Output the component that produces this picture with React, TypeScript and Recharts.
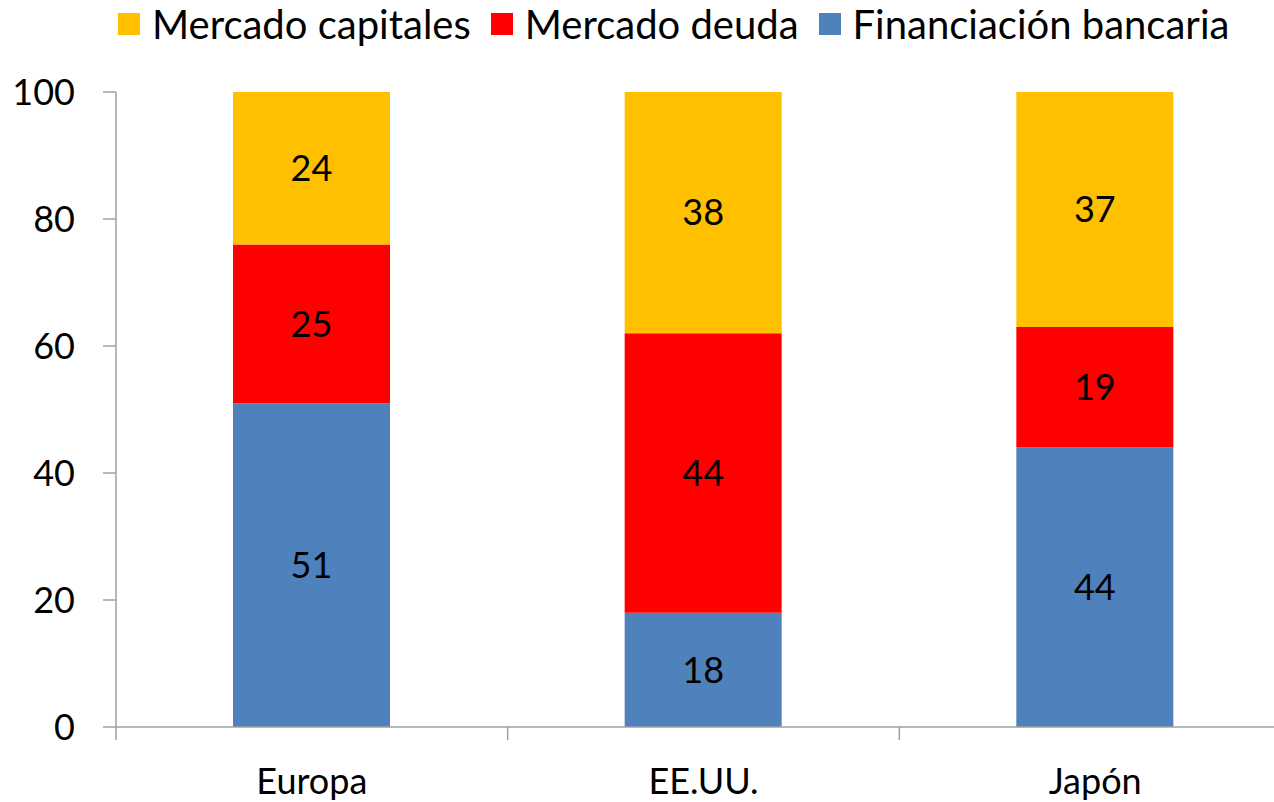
import React from 'react'
import { BarChart, Bar, XAxis, YAxis, LabelList } from 'recharts'

// Fuentes de financiación por región (% del total)
const regions = ['Europa', 'EE.UU.', 'Japón']
const bancaria = [51, 18, 44]
const deuda = [25, 44, 19]
const capitales = [24, 38, 37]
const yTicks = [0, 20, 40, 60, 80, 100]

const series = [
  { key: 'bancaria', name: 'Financiación bancaria', color: '#4F81BD', values: bancaria },
  { key: 'deuda', name: 'Mercado deuda', color: '#FF0000', values: deuda },
  { key: 'capitales', name: 'Mercado capitales', color: '#FFC000', values: capitales }
]

const data = regions.map((region, i) => ({
  region,
  bancaria: bancaria[i],
  deuda: deuda[i],
  capitales: capitales[i]
}))

const AXIS = '#A0A0A0'
const FONT = 'Lato, "Open Sans", sans-serif'

const CategoryTick = (props: any) => {
  const { x, y, payload } = props
  const half = payload?.offset ?? 0
  return (
    <g>
      <line x1={x - half} x2={x - half} y1={y - 41} y2={y - 28} stroke={AXIS} strokeWidth={1.5} />
      <text x={x} y={y} dy="0.71em" textAnchor="middle" fill="#000" fontSize={36} fontFamily={FONT}>
        {payload.value}
      </text>
    </g>
  )
}

function LegendRow() {
  const items = [...series].reverse()
  return (
    <div
      style={{
        position: 'absolute',
        top: 0,
        left: 118,
        display: 'flex',
        alignItems: 'center',
        fontFamily: FONT,
        fontSize: 40,
        lineHeight: '48px',
        color: '#000',
        whiteSpace: 'nowrap'
      }}
    >
      {items.map(s => (
        <div key={s.key} style={{ display: 'flex', alignItems: 'center', marginRight: 20 }}>
          <span style={{ width: 22, height: 22, background: s.color, marginRight: 12, display: 'inline-block' }} />
          <span>{s.name}</span>
        </div>
      ))}
    </div>
  )
}

export default function App() {
  return (
    <div
      style={{
        position: 'absolute',
        left: 0,
        top: 0,
        width: 1274,
        height: 802,
        overflow: 'hidden',
        background: '#fff'
      }}
    >
      <BarChart
        width={1300}
        height={802}
        data={data}
        margin={{ top: 92, right: 9, left: 0, bottom: 0 }}
        barSize={157}
      >
        <XAxis
          dataKey="region"
          height={75}
          tickSize={13}
          tickMargin={28}
          tickLine={false}
          axisLine={{ stroke: AXIS, strokeWidth: 1.5 }}
          tick={<CategoryTick />}
          interval={0}
        />
        <YAxis
          width={116}
          domain={[0, 100]}
          ticks={yTicks}
          tickSize={13}
          tickMargin={28}
          axisLine={{ stroke: AXIS, strokeWidth: 1.5 }}
          tickLine={{ stroke: AXIS, strokeWidth: 1.5 }}
          tick={{ fill: '#000', fontSize: 36, fontFamily: FONT }}
        />
        {series.map(s => (
          <Bar key={s.key} dataKey={s.key} name={s.name} stackId="a" fill={s.color} isAnimationActive={false}>
            <LabelList dataKey={s.key} position="center" fill="#000" fontSize={36} fontFamily={FONT} />
          </Bar>
        ))}
      </BarChart>
      <LegendRow />
    </div>
  )
}
